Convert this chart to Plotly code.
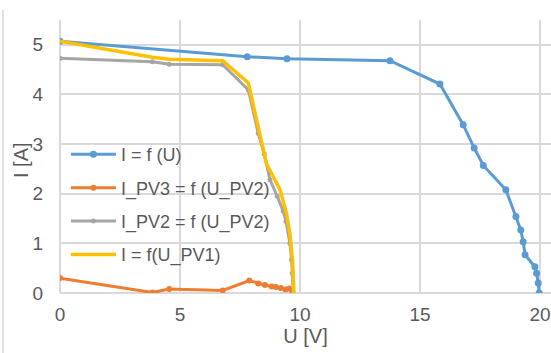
import plotly.graph_objects as go

# I = f(U)
u_total = [0, 7.8, 9.46, 13.75, 15.83, 16.8, 17.26, 17.64, 18.58, 19.0, 19.2, 19.3, 19.38, 19.79, 19.86, 19.93, 19.97]
i_total = [5.07, 4.76, 4.72, 4.68, 4.21, 3.39, 2.92, 2.57, 2.08, 1.54, 1.27, 1.03, 0.77, 0.53, 0.40, 0.20, 0.0]

# I_PV3 = f(U_PV2)
u_pv3 = [0, 3.85, 4.55, 6.78, 7.89, 8.26, 8.54, 8.82, 9.0, 9.2, 9.4, 9.55, 9.68]
i_pv3 = [0.30, 0.01, 0.08, 0.05, 0.25, 0.19, 0.16, 0.13, 0.12, 0.10, 0.07, 0.09, 0.0]

# I_PV2 = f(U_PV2)
u_pv2 = [0, 3.85, 4.55, 6.78, 7.85, 8.26, 8.51, 8.75, 9.05, 9.3, 9.42, 9.58, 9.65, 9.68, 9.72]
i_pv2 = [4.73, 4.66, 4.61, 4.60, 4.09, 3.22, 2.80, 2.28, 1.95, 1.65, 1.44, 1.0, 0.67, 0.40, 0.0]

# I = f(U_PV1)
u_pv1 = [0, 3.85, 4.55, 6.78, 7.85, 8.6, 9.17, 9.44, 9.58, 9.69, 9.75]
i_pv1 = [5.07, 4.75, 4.71, 4.68, 4.23, 2.61, 2.08, 1.60, 1.20, 0.67, 0.0]

names = ["I = f (U)", "I_PV3 = f (U_PV2)", "I_PV2 = f (U_PV2)", "I = f(U_PV1)"]
colors = ["#5b9bd5", "#ed7d31", "#a5a5a5", "#ffc000"]

FONT = "Liberation Sans, Arial, sans-serif"
TXT = "#595959"

fig = go.Figure()
fig.add_trace(go.Scatter(x=u_total, y=i_total, name=names[0], mode="lines+markers",
                         line=dict(color=colors[0], width=3), marker=dict(size=7, color=colors[0]),
                         legendgroup="a"))
fig.add_trace(go.Scatter(x=u_pv3, y=i_pv3, name=names[1], mode="lines+markers",
                         line=dict(color=colors[1], width=3), marker=dict(size=6, color=colors[1]),
                         legendgroup="b"))
fig.add_trace(go.Scatter(x=u_pv2, y=i_pv2, name=names[2], mode="lines+markers",
                         line=dict(color=colors[2], width=3), marker=dict(size=5, color=colors[2]),
                         legendgroup="c"))
fig.add_trace(go.Scatter(x=u_pv1, y=i_pv1, name=names[3], mode="lines",
                         line=dict(color=colors[3], width=3.5),
                         legendgroup="d"))

grid = "#d9d9d9"
fig.update_layout(
    width=551, height=353,
    margin=dict(l=60, r=0, t=20, b=60),
    paper_bgcolor="white", plot_bgcolor="white",
    font=dict(family=FONT, size=19, color=TXT),
    showlegend=True,
    legend=dict(x=0.012, y=0.575, xanchor="left", yanchor="top", itemwidth=45,
                bgcolor="rgba(0,0,0,0)", font=dict(size=18, color=TXT),
                tracegroupgap=7, traceorder="grouped"),
    xaxis=dict(range=[0, 20.46], dtick=5, tick0=0, showgrid=True, gridcolor=grid, gridwidth=1.5,
               zeroline=True, zerolinecolor=grid, zerolinewidth=1.5, showline=False,
               ticks="", ticklabelstandoff=8, ticklabeloverflow="allow",
               tickfont=dict(size=19, color=TXT),
               title=dict(text="U [V]", font=dict(size=20, color=TXT), standoff=4)),
    yaxis=dict(range=[0, 5.5], dtick=1, tick0=0, showgrid=True, gridcolor=grid, gridwidth=1.5,
               zeroline=True, zerolinecolor=grid, zerolinewidth=1.5, showline=False,
               ticks="", ticklabelstandoff=16, tickfont=dict(size=19, color=TXT)),
    annotations=[
        dict(text="I [A]", xref="paper", yref="paper", x=-(60 - 21) / 491, y=(293 - 160) / 273,
             xanchor="center", yanchor="middle", textangle=-90, showarrow=False,
             font=dict(size=20, color=TXT)),
    ],
    shapes=[dict(type="line", xref="paper", yref="paper", x0=-(60 - 3) / 491, x1=-(60 - 3) / 491,
                 y0=-(353 - 293) / 273, y1=(293 - 10) / 273, line=dict(color="#d9d9d9", width=1.5))],
)

fig.write_html("out.html")
